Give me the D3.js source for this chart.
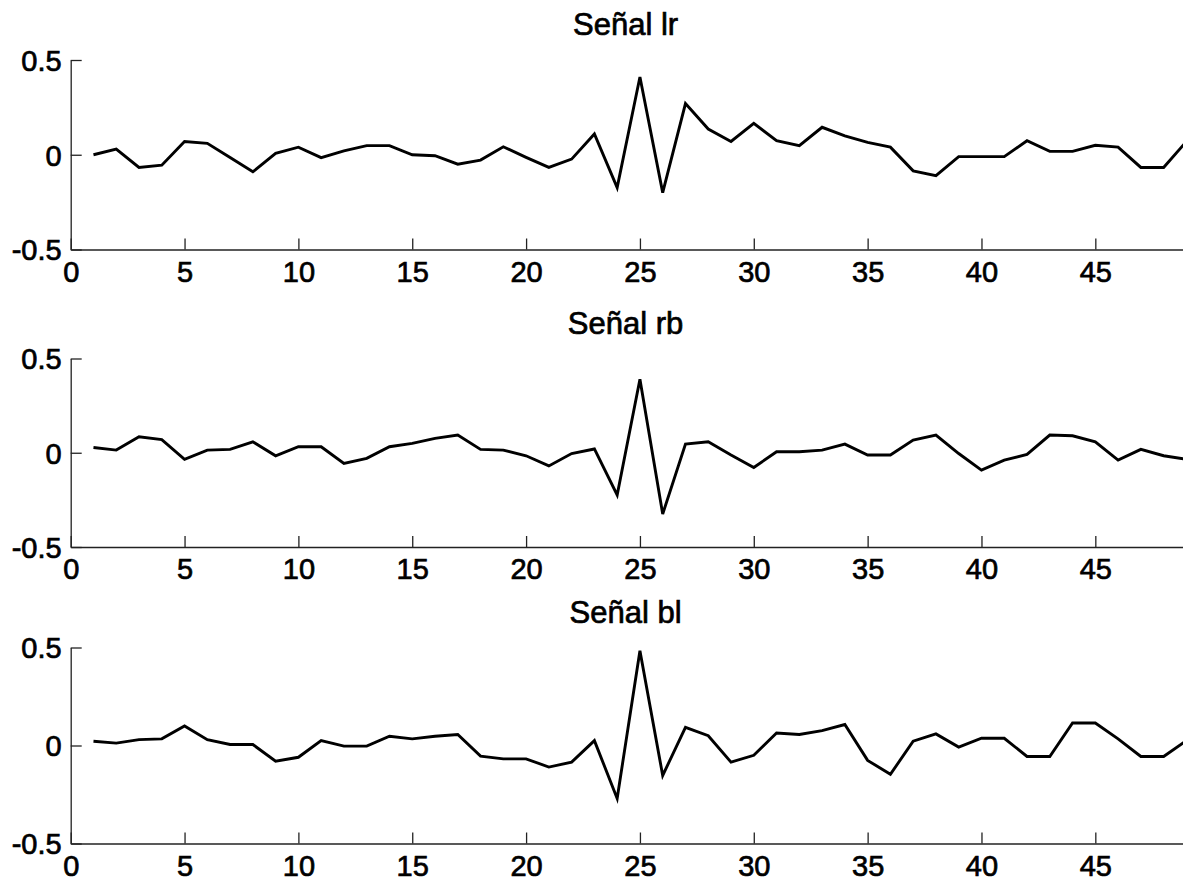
<!DOCTYPE html>
<html>
<head>
<meta charset="utf-8">
<script src="https://cdn.jsdelivr.net/npm/d3@7"></script>
<style>
  html, body { margin: 0; padding: 0; background: #fff; overflow: hidden; }
  svg { display: block; font-family: "Liberation Sans", Arial, Helvetica, sans-serif; }
</style>
</head>
<body>
<div id="chart"></div>
<script>
// sample index (x axis)
const sampleIndex = [1, 2, 3, 4, 5, 6, 7, 8, 9, 10, 11, 12, 13, 14, 15, 16, 17, 18, 19, 20,
  21, 22, 23, 24, 25, 26, 27, 28, 29, 30, 31, 32, 33, 34, 35, 36, 37, 38, 39, 40,
  41, 42, 43, 44, 45, 46, 47, 48, 49];

const signalLr = [0.0, 0.03, -0.067, -0.055, 0.07, 0.06, -0.015, -0.09, 0.007, 0.04,
  -0.015, 0.02, 0.048, 0.048, 0.0, -0.005, -0.05, -0.028, 0.042, -0.014,
  -0.067, -0.023, 0.11, -0.173, 0.41, -0.2, 0.27, 0.136, 0.07, 0.166,
  0.074, 0.048, 0.145, 0.1, 0.065, 0.04, -0.085, -0.11, -0.01, -0.01,
  -0.01, 0.074, 0.018, 0.018, 0.05, 0.04, -0.067, -0.067, 0.07];

const signalRb = [0.028, 0.014, 0.085, 0.07, -0.035, 0.014, 0.018, 0.058, -0.016, 0.032,
  0.032, -0.057, -0.03, 0.032, 0.05, 0.076, 0.094, 0.018, 0.014, -0.016,
  -0.07, -0.004, 0.02, -0.224, 0.39, -0.325, 0.046, 0.058, -0.012, -0.078,
  0.005, 0.005, 0.014, 0.046, -0.012, -0.012, 0.067, 0.094, -0.004, -0.092,
  -0.039, -0.009, 0.094, 0.09, 0.058, -0.039, 0.018, -0.016, -0.035];

const signalBl = [0.022, 0.012, 0.03, 0.034, 0.1, 0.03, 0.005, 0.005, -0.08, -0.06,
  0.025, -0.003, -0.003, 0.047, 0.034, 0.047, 0.056, -0.054, -0.068, -0.068,
  -0.11, -0.085, 0.025, -0.27, 0.483, -0.153, 0.093, 0.05, -0.085, -0.05,
  0.064, 0.056, 0.076, 0.107, -0.076, -0.147, 0.022, 0.059, -0.008, 0.037,
  0.037, -0.056, -0.056, 0.115, 0.115, 0.034, -0.056, -0.056, 0.025];

const panelTitles = ["Señal lr", "Señal rb", "Señal bl"];
const xTicks = [0, 5, 10, 15, 20, 25, 30, 35, 40, 45];
const yTicks = [-0.5, 0, 0.5];
const yTickLabels = ["-0.5", "0", "0.5"];

const width = 1183, height = 882;
const plotLeft = 70.7, plotRight = 1186.4;

// top / bottom pixel of each axes box
const panelBoxes = [
  { top: 60, bottom: 249.5 },
  { top: 358.5, bottom: 547 },
  { top: 647.5, bottom: 843.5 },
];

const svg = d3.select("#chart")
  .append("svg")
  .attr("width", width)
  .attr("height", height);

svg.append("rect").attr("width", width).attr("height", height).attr("fill", "#fff");

const x = d3.scaleLinear().domain([0, 49]).range([plotLeft, plotRight]);

// heavier text, like the scaled-up MATLAB figure
function styleLabel(sel, size) {
  sel.attr("fill", "#000")
    .attr("stroke", "#000")
    .attr("stroke-width", 0.7)
    .style("font-size", size + "px");
}

[signalLr, signalRb, signalBl].forEach((values, i) => {
  const box = panelBoxes[i];
  const y = d3.scaleLinear().domain([-0.5, 0.5]).range([box.bottom, box.top]);
  const g = svg.append("g");

  // bottom axis, ticks pointing inward
  const xAxis = g.append("g")
    .attr("transform", "translate(0," + box.bottom + ")")
    .call(d3.axisBottom(x).tickValues(xTicks).tickSizeInner(-11).tickSizeOuter(0).tickPadding(0));
  xAxis.select(".domain").attr("stroke", "#222").attr("stroke-width", 1.3);
  xAxis.selectAll(".tick line").attr("stroke", "#222").attr("stroke-width", 1.3);
  xAxis.selectAll(".tick text")
    .attr("y", 32)
    .attr("dy", null)
    .call(styleLabel, 29);

  // left axis
  const yAxis = g.append("g")
    .attr("transform", "translate(" + plotLeft + ",0)")
    .call(d3.axisLeft(y).tickValues(yTicks)
      .tickFormat((d, j) => yTickLabels[j])
      .tickSizeInner(-11).tickSizeOuter(0).tickPadding(0));
  yAxis.select(".domain").attr("stroke", "#222").attr("stroke-width", 1.3);
  yAxis.selectAll(".tick line").attr("stroke", "#222").attr("stroke-width", 1.3);
  yAxis.selectAll(".tick text")
    .attr("x", -9)
    .attr("dy", "0.36em")
    .call(styleLabel, 29);

  const line = d3.line()
    .x((d, j) => x(sampleIndex[j]))
    .y((d) => y(d));

  g.append("path")
    .datum(values)
    .attr("d", line)
    .attr("fill", "none")
    .attr("stroke", "#000")
    .attr("stroke-width", 2.9)
    .attr("stroke-linejoin", "miter");

  g.append("text")
    .attr("x", (plotLeft + plotRight) / 2 - 3)
    .attr("y", box.top - 25)
    .attr("text-anchor", "middle")
    .call(styleLabel, 31)
    .text(panelTitles[i]);
});
</script>
</body>
</html>
